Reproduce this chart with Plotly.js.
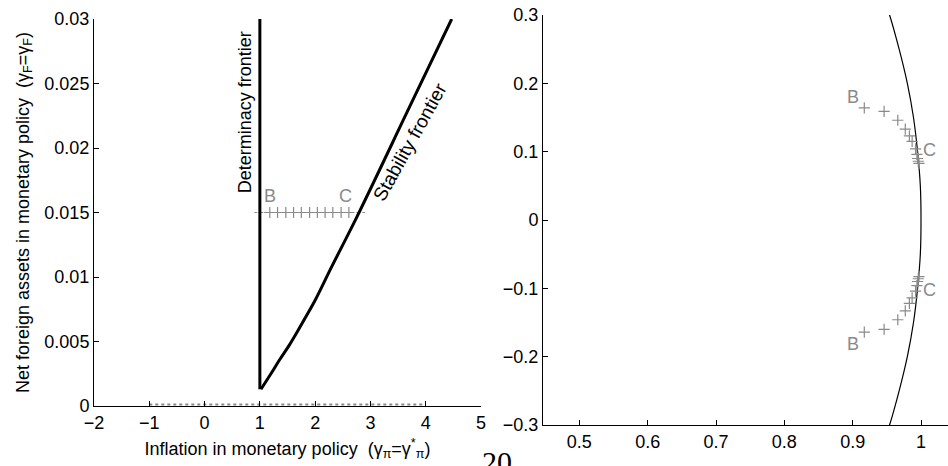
<!DOCTYPE html>
<html>
<head>
<meta charset="utf-8">
<script src="https://cdn.plot.ly/plotly-3.0.1.min.js"></script>
<style>html,body{margin:0;padding:0;background:#fff;}#chart{width:948px;height:466px;}</style>
</head>
<body>
<div id="chart"></div>
<script>
// ---- Left panel data ----
const detX = [1, 1];
const detY = [0.0013, 0.03];
const stabX = [1.02, 1.20, 1.36, 1.53, 1.69, 1.83, 2.0, 2.30, 2.76, 3.71, 4.47];
const stabY = [0.0013, 0.0025, 0.0036, 0.0047, 0.00585, 0.0069, 0.0082, 0.0108, 0.0147, 0.0232, 0.030];
const pathLineX = [0.9, 2.9];
const pathLineY = [0.015, 0.015];
const pathX = [1.18, 1.32, 1.47, 1.61, 1.75, 1.90, 2.04, 2.18, 2.32, 2.47, 2.61];
const pathY = [0.015, 0.015, 0.015, 0.015, 0.015, 0.015, 0.015, 0.015, 0.015, 0.015, 0.015];
const floorX = [-1, 4];
const floorY = [0.00012, 0.00012];
const leftXTicks = [-2, -1, 0, 1, 2, 3, 4, 5];
const leftXText = ["\u22122", "\u22121", "0", "1", "2", "3", "4", "5"];
const leftYTicks = [0, 0.005, 0.01, 0.015, 0.02, 0.025, 0.03];
const leftYText = ["0", "0.005", "0.01", "0.015", "0.02", "0.025", "0.03"];

// ---- Right panel data ----
const circY = [-0.32, -0.3, -0.25, -0.2, -0.15, -0.1, -0.05, 0, 0.05, 0.1, 0.15, 0.2, 0.25, 0.3, 0.32];
const circX = [0.947, 0.954, 0.968, 0.980, 0.989, 0.995, 0.999, 1.0, 0.999, 0.995, 0.989, 0.980, 0.968, 0.954, 0.947];
const upX = [0.917, 0.946, 0.966, 0.977, 0.983, 0.987, 0.992, 0.994, 0.995, 0.996, 0.997];
const upY = [0.164, 0.159, 0.146, 0.133, 0.123, 0.115, 0.104, 0.096, 0.090, 0.086, 0.083];
const loX = [0.917, 0.946, 0.966, 0.977, 0.983, 0.987, 0.992, 0.994, 0.995, 0.996, 0.997];
const loY = [-0.164, -0.160, -0.146, -0.133, -0.122, -0.114, -0.104, -0.096, -0.090, -0.086, -0.083];
const rightXTicks = [0.5, 0.6, 0.7, 0.8, 0.9, 1];
const rightXText = ["0.5", "0.6", "0.7", "0.8", "0.9", "1"];
const rightYTicks = [-0.3, -0.2, -0.1, 0, 0.1, 0.2, 0.3];
const rightYText = ["\u22120.3", "\u22120.2", "\u22120.1", "0", "0.1", "0.2", "0.3"];

const GRAY = "#8a8a8a";
const FONT = "Liberation Sans, Arial, sans-serif";
const W = 948, H = 466;

const plus = {symbol: "cross-thin", size: 8, color: GRAY, line: {color: GRAY, width: 1.2}};

const traces = [
  {x: floorX, y: floorY, xaxis: "x", yaxis: "y", mode: "lines", line: {color: GRAY, width: 2, dash: "dot"}, hoverinfo: "skip", cliponaxis: false},
  {x: pathLineX, y: pathLineY, xaxis: "x", yaxis: "y", mode: "lines", line: {color: GRAY, width: 1, dash: "dot"}},
  {x: pathX, y: pathY, xaxis: "x", yaxis: "y", mode: "markers", marker: plus},
  {x: detX, y: detY, xaxis: "x", yaxis: "y", mode: "lines", line: {color: "#000", width: 3}},
  {x: stabX, y: stabY, xaxis: "x", yaxis: "y", mode: "lines", line: {color: "#000", width: 3, shape: "spline", smoothing: 1}},
  {x: circX, y: circY, xaxis: "x2", yaxis: "y2", mode: "lines", line: {color: "#000", width: 1.2, shape: "spline"}},
  {x: upX, y: upY, xaxis: "x2", yaxis: "y2", mode: "markers", marker: plus},
  {x: loX, y: loY, xaxis: "x2", yaxis: "y2", mode: "markers", marker: plus}
];

const axBase = {
  showline: true, linecolor: "#000", linewidth: 1, ticks: "inside", ticklen: 5, tickcolor: "#000",
  showgrid: false, zeroline: false, mirror: false, tickfont: {family: FONT, size: 18, color: "#000"},
  automargin: false, fixedrange: true
};

const layout = {
  width: W, height: H, margin: {l: 0, r: 0, t: 0, b: 0},
  paper_bgcolor: "#fff", plot_bgcolor: "#fff", showlegend: false,
  font: {family: FONT, size: 18, color: "#000"},
  xaxis: Object.assign({}, axBase, {
    domain: [94 / W, 481 / W], range: [-2, 5], anchor: "y",
    tickvals: leftXTicks, ticktext: leftXText,
    title: {text: "Inflation in monetary policy  (\u03b3<sub>\u03c0</sub>=\u03b3<sup>*</sup><sub>\u03c0</sub>)", font: {family: FONT, size: 18, color: "#000"}, standoff: 10}
  }),
  yaxis: Object.assign({}, axBase, {
    domain: [(H - 406) / H, (H - 19) / H], range: [0, 0.03], anchor: "x",
    tickvals: leftYTicks, ticktext: leftYText,
    title: {text: "Net foreign assets in monetary policy  (\u03b3<sub>F</sub>=\u03b3<sub>F</sub>)", font: {family: FONT, size: 18, color: "#000"}, standoff: 10}
  }),
  xaxis2: Object.assign({}, axBase, {
    domain: [543 / W, 1], range: [0.4468, 1.0395], anchor: "y2",
    tickvals: rightXTicks, ticktext: rightXText
  }),
  yaxis2: Object.assign({}, axBase, {
    domain: [(H - 425) / H, (H - 15) / H], range: [-0.3, 0.3], anchor: "x2",
    tickvals: rightYTicks, ticktext: rightYText
  }),
  annotations: [
    {text: "Determinacy frontier", xref: "x", yref: "y", x: 0.72, y: 0.0228, textangle: -90, showarrow: false, xanchor: "center", yanchor: "middle", font: {family: FONT, size: 18, color: "#000"}},
    {text: "Stability frontier", xref: "x", yref: "y", x: 3.72, y: 0.0205, textangle: -61, showarrow: false, xanchor: "center", yanchor: "middle", font: {family: FONT, size: 19, color: "#000"}},
    {text: "B", xref: "x", yref: "y", x: 1.18, y: 0.0163, showarrow: false, font: {family: FONT, size: 18, color: GRAY}},
    {text: "C", xref: "x", yref: "y", x: 2.54, y: 0.0163, showarrow: false, font: {family: FONT, size: 18, color: GRAY}},
    {text: "B", xref: "x2", yref: "y2", x: 0.9007, y: 0.180, showarrow: false, font: {family: FONT, size: 18, color: GRAY}},
    {text: "C", xref: "x2", yref: "y2", x: 1.0127, y: 0.1025, showarrow: false, font: {family: FONT, size: 18, color: GRAY}},
    {text: "B", xref: "x2", yref: "y2", x: 0.9007, y: -0.1816, showarrow: false, font: {family: FONT, size: 18, color: GRAY}},
    {text: "C", xref: "x2", yref: "y2", x: 1.0127, y: -0.1025, showarrow: false, font: {family: FONT, size: 18, color: GRAY}},
    {text: "20", xref: "paper", yref: "paper", x: 497 / W, y: (H - 443) / H, xanchor: "center", yanchor: "top", showarrow: false, font: {family: "Liberation Serif, Times New Roman, serif", size: 30, color: "#000"}}
  ]
};

Plotly.newPlot("chart", traces, layout, {staticPlot: true, displayModeBar: false});
</script>
</body>
</html>
